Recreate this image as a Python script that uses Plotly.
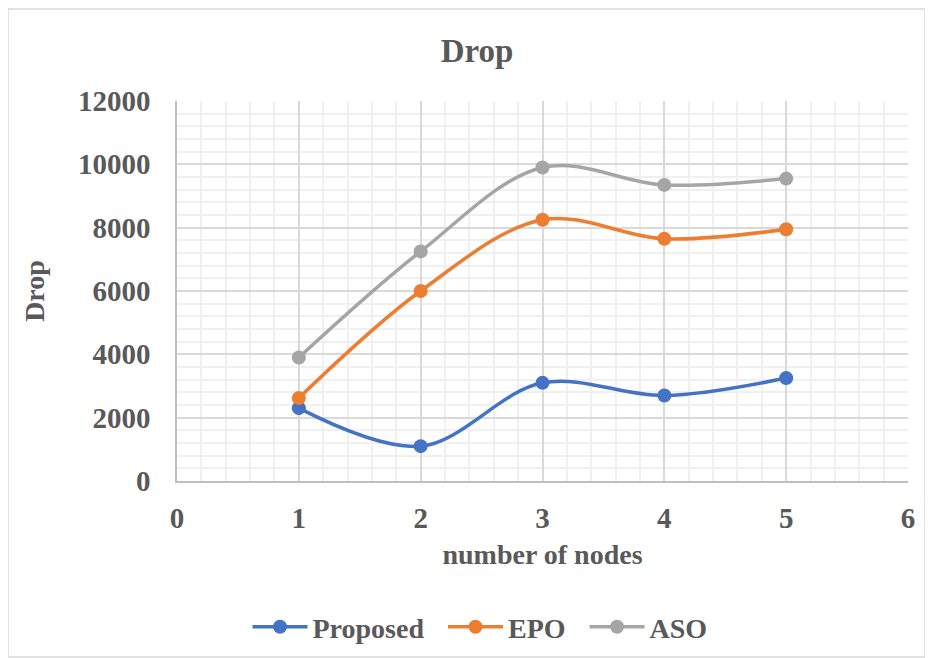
import plotly.graph_objects as go

nodes = [1, 2, 3, 4, 5]
proposed = [2300, 1100, 3100, 2700, 3250]
epo = [2620, 6000, 8250, 7650, 7950]
aso = [3900, 7250, 9900, 9350, 9550]

series_names = ["Proposed", "EPO", "ASO"]
series_vals = [proposed, epo, aso]
series_colors = ["#4472C4", "#ED7D31", "#A5A5A5"]

OFF = 8  # page body margin
W, H = 933 - OFF, 658 - OFF
ML = 177 - OFF
MR = 933 - 908
MT = 101 - OFF
MB = 658 - 481
FONT = "Liberation Serif"
TXT = "#595959"

fig = go.Figure()
for i, (name, vals, col) in enumerate(zip(series_names, series_vals, series_colors)):
    pad = "\u00a0\u00a0" if i < len(series_names) - 1 else ""
    fig.add_trace(go.Scatter(
        x=nodes, y=vals, name="<b>" + name + "</b>" + pad, mode="lines+markers",
        line=dict(color=col, width=3.5, shape="spline", smoothing=1.0),
        marker=dict(color=col, size=14),
    ))

pw = W - ML - MR
ph = H - MT - MB
# outer chart border
fig.add_shape(type="rect", xref="paper", yref="paper",
              x0=(8 - OFF - ML) / pw, x1=(925 - OFF - ML) / pw,
              y0=(H - (657 - OFF) - MB) / ph, y1=(H - (9 - OFF) - MB) / ph,
              line=dict(color="#D9D9D9", width=1.5), fillcolor="rgba(0,0,0,0)",
              layer="below")

fig.update_layout(
    width=W, height=H,
    margin=dict(l=ML, r=MR, t=MT, b=MB),
    paper_bgcolor="white", plot_bgcolor="white",
    font=dict(family=FONT, color=TXT, size=28),
    title=dict(text="<b>Drop</b>", x=(477 - OFF) / W, xanchor="center",
               y=1 - (50 - OFF) / H, yanchor="middle", yref="container",
               font=dict(size=33, family=FONT, color=TXT)),
    xaxis=dict(
        range=[0, 6], dtick=1, tick0=0, tickformat="d",
        showgrid=True, gridcolor="#D9D9D9", gridwidth=1.5,
        minor=dict(dtick=0.2, showgrid=True, gridcolor="#F0F0F0", gridwidth=1.5),
        showline=True, linecolor="#BFBFBF", linewidth=1.5,
        zeroline=False, ticks="", ticklabelstandoff=10,
        tickfont=dict(size=29, family=FONT, color=TXT),
        tickprefix="<b>", ticksuffix="</b>",
        title=dict(text="<b>number of nodes</b>", standoff=12,
                   font=dict(size=28, family=FONT, color=TXT)),
    ),
    yaxis=dict(
        range=[0, 12000], dtick=2000, tick0=0, tickformat="d",
        showgrid=True, gridcolor="#D9D9D9", gridwidth=1.5,
        minor=dict(dtick=400, showgrid=True, gridcolor="#F0F0F0", gridwidth=1.5),
        showline=True, linecolor="#BFBFBF", linewidth=1.5,
        zeroline=False, ticks="", ticklabelstandoff=19,
        tickfont=dict(size=29, family=FONT, color=TXT),
        tickprefix="<b>", ticksuffix="</b>",
        title=dict(text="<b>Drop</b>", standoff=25,
                   font=dict(size=28, family=FONT, color=TXT)),
    ),
    legend=dict(orientation="h", xref="container", yref="container",
                x=(480 - OFF) / W, xanchor="center", y=1 - (627 - OFF) / H,
                yanchor="middle",
                font=dict(size=28, family=FONT, color=TXT),
                itemwidth=55, traceorder="normal"),
    showlegend=True,
)

fig.write_html("out.html")
